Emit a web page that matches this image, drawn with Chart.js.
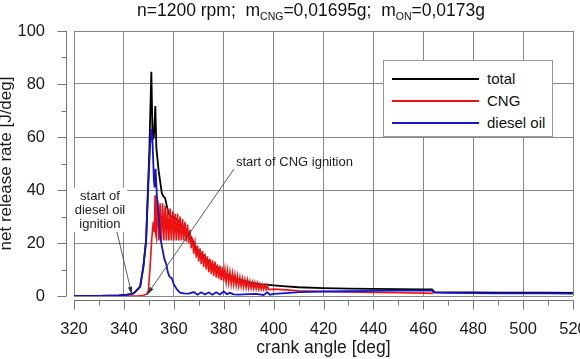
<!DOCTYPE html>
<html>
<head>
<meta charset="utf-8">
<script src="https://cdn.jsdelivr.net/npm/chart.js@4.4.0/dist/chart.umd.min.js"></script>
<style>
  body { margin: 0; background: #fff; font-family: 'Liberation Sans', Arial, sans-serif; }
  #wrap { position: relative; width: 580px; height: 359px; overflow: hidden; }
  #title { position: absolute; left: 137px; top: 0; font-size: 17.5px; line-height: 21px; color: #111; white-space: pre; }
  #title sub { font-size: 10.5px; vertical-align: -4px; line-height: 0; }
  #legend { position: absolute; left: 383px; top: 60px; width: 168px; height: 75px; border: 1.5px solid #999; background: #fff; }
  .row { position: absolute; left: 8px; width: 160px; height: 20px; font-size: 15px; line-height: 20px; color: #111; }
  .row .ln { position: absolute; left: 0; top: 9px; width: 87px; height: 2px; }
  .row .tx { position: absolute; left: 95px; white-space: nowrap; }
</style>
</head>
<body>
<div id="wrap">
  <canvas id="chart" width="580" height="359"></canvas>
  <div id="title">n=1200 rpm;  m<sub>CNG</sub>=0,01695g;  m<sub>ON</sub>=0,0173g</div>
  <div id="legend">
    <div class="row" style="top:8px"><span class="ln" style="background:#000"></span><span class="tx">total</span></div>
    <div class="row" style="top:30px"><span class="ln" style="background:#ee1111"></span><span class="tx">CNG</span></div>
    <div class="row" style="top:52px"><span class="ln" style="background:#1414c8"></span><span class="tx">diesel oil</span></div>
  </div>
</div>
<script>
const xTicks = [320, 340, 360, 380, 400, 420, 440, 460, 480, 500, 520];
const yTicks = [0, 20, 40, 60, 80, 100];

// total heat release
const totalAngle = [
  320, 330, 338, 341, 342.5, 343.8, 345, 346.5, 347.8, 348.9, 349.4, 350.2, 350.6,
  351.0, 351.5, 352.0, 352.6, 353.0, 353.9, 355.2, 355.9, 356.5, 357.2, 357.9,
  359, 361, 363, 365, 367, 369, 371, 373, 375, 377, 379, 381, 383, 385, 387, 389,
  391, 393, 395, 397, 400, 405, 410, 420, 430, 440, 450, 460, 463.5, 464.5,
  470, 480, 490, 500, 510, 520
];
const totalRate = [
  0, 0, 0.2, 0.4, 0.7, 1.0, 2.0, 3.5, 11, 21, 34, 55, 70,
  84.6, 59, 60, 71.7, 56, 47.5, 38.8, 37.5, 37, 34, 31,
  30, 29, 27, 25, 22, 18, 16, 14, 12, 11, 9.5, 8.3, 7.5, 6.5, 6, 5.5,
  5, 4.7, 4.4, 4.3, 4, 3.6, 3.3, 3.0, 2.8, 2.7, 2.6, 2.5, 2.5, 1.5,
  1.4, 1.4, 1.3, 1.3, 1.3, 1.2
];

// CNG
const cngAngle = [
  320, 340, 346, 348, 349.2, 349.8, 350.5, 351.2, 351.8, 352.2, 352.5, 352.8,
  353, 353.5, 354, 354.5, 355, 355.5, 356, 356.5, 357, 357.5,
  358, 358.5, 359, 359.5, 360, 360.5, 361, 361.5, 362, 362.5,
  363, 363.5, 364, 364.5, 365, 365.5, 366, 366.5, 367, 367.5,
  368, 368.5, 369, 369.5, 370, 370.5, 371, 371.5, 372, 372.5,
  373, 373.5, 374, 374.5, 375, 375.5, 376, 376.5, 377, 377.5,
  378, 378.5, 379, 379.5, 380, 380.5, 381, 381.5, 382, 382.5,
  383, 383.5, 384, 384.5, 385, 385.5, 386, 386.5, 387, 387.5,
  388, 388.5, 389, 389.5, 390, 390.5, 391, 391.5, 392, 392.5,
  393, 393.5, 394, 394.5, 395, 395.5, 396, 396.5, 397, 397.5,
  398, 400, 405, 410, 420, 430, 440, 450, 460, 464
];
const cngRate = [
  0, 0, 0.1, 0.3, 0.8, 2, 11, 22, 28, 24, 38, 23,
  22, 36, 21, 35, 21, 35, 21, 34, 21, 33,
  21, 33, 21, 32, 21, 31, 21, 31, 21, 30,
  21, 29, 21, 28, 20.5, 27, 20, 25, 18, 22,
  16, 20, 14.5, 19, 13, 18, 12, 17, 11, 16,
  10, 15, 9, 14, 8.3, 13.5, 7.6, 13, 7, 12,
  6.5, 11.5, 6, 11, 5.5, 10, 5.2, 9.5, 5, 9,
  4.6, 8.5, 4.3, 8, 4, 7.5, 3.8, 7, 3.6, 6.5,
  3.4, 6.2, 3.2, 6, 3, 5.5, 2.9, 5.2, 2.8, 5,
  2.7, 4.8, 2.6, 4.5, 2.5, 4.3, 2.5, 4.1, 2.4, 4,
  2.4, 2.6, 2.3, 2.0, 1.7, 1.5, 1.3, 1.2, 1.1, 1.0
];

// diesel oil
const dieselAngle = [
  320, 330, 338, 341, 342.5, 343.8, 345, 346.5, 347.8, 348.9, 349.4, 350.2, 350.6,
  351.0, 351.5, 352.0, 352.3, 352.7, 353.2, 354.0, 354.6, 355.4, 356.2, 357.0,
  357.6, 358.3, 359.2, 360.0, 360.6, 361.5, 362.5, 364, 366, 368, 369.5, 371,
  372.5, 374, 375.5, 377, 378.5, 380, 381.3, 382.5, 384, 386, 388, 390, 393,
  396, 397.5, 398.5, 400, 405, 410, 420, 430, 440, 450, 460, 463.5, 464.5,
  470, 480, 490, 500, 510, 520
];
const dieselRate = [
  0, 0, 0.2, 0.4, 0.7, 1.0, 2.0, 3.5, 11, 21, 33, 51, 58,
  63, 58, 44, 41, 48, 38, 30, 22, 18, 14, 12,
  9, 7.3, 6.7, 4.5, 3.5, 2.2, 1.3, 1.0, 0.9, 1.5, 0.5, 1.4,
  0.6, 1.3, 0.5, 1.4, 0.6, 1.7, 0.7, 1.2, 0.6, 0.5, 0.6, 0.7, 0.8,
  0.4, 1.4, 0.5, 0.8, 1.1, 1.5, 1.7, 1.8, 1.9, 2.0, 2.0, 2.0, 1.3,
  1.2, 1.1, 1.0, 1.0, 1.0, 0.9
];

const FONT = "'Liberation Sans', Arial, sans-serif";

const notes = [
  { lines: ['start of CNG ignition'], at: [384.9, 50.3], from: [384.1, 47.9], tip: [349.3, 0.5], align: 'left' },
  { lines: ['start of', 'diesel oil', 'ignition'], at: [330.4, 37.5], from: [337.2, 24.2], tip: [343.2, 0.5], align: 'center', box: true }
];

function toPoints(xs, ys) {
  return xs.map((x, i) => ({ x, y: ys[i] }));
}

// axis lines drawn a few px away from the plot, with major + minor ticks
const offsetAxes = {
  id: 'offsetAxes',
  afterDraw(chart) {
    const { ctx, chartArea: a, scales: { x, y } } = chart;
    const ax = a.left - 7.5;
    const ay = a.bottom + 4.5;
    ctx.save();
    ctx.strokeStyle = '#777';
    ctx.lineWidth = 1;
    ctx.beginPath();
    ctx.moveTo(ax, a.top);
    ctx.lineTo(ax, a.bottom);
    ctx.moveTo(a.left, ay);
    ctx.lineTo(a.right, ay);
    for (let v = y.min; v <= y.max; v += 10) {
      const py = Math.round(y.getPixelForValue(v)) + 0.5;
      const len = v % 20 === 0 ? 9 : 5;
      ctx.moveTo(ax - len, py);
      ctx.lineTo(ax, py);
    }
    for (let v = x.min; v <= x.max; v += 10) {
      const px = Math.round(x.getPixelForValue(v)) + 0.5;
      const len = v % 20 === 0 ? 9 : 5;
      ctx.moveTo(px, ay);
      ctx.lineTo(px, ay + len);
    }
    ctx.stroke();
    ctx.restore();
  }
};

const annotations = {
  id: 'annotations',
  afterDatasetsDraw(chart) {
    const { ctx, scales: { x, y } } = chart;
    ctx.save();
    ctx.font = '13px ' + FONT;
    notes.forEach(n => {
      const fx = x.getPixelForValue(n.from[0]), fy = y.getPixelForValue(n.from[1]);
      const tx = x.getPixelForValue(n.tip[0]), ty = y.getPixelForValue(n.tip[1]);
      // arrow
      ctx.strokeStyle = '#333';
      ctx.fillStyle = '#333';
      ctx.lineWidth = 0.8;
      ctx.beginPath();
      ctx.moveTo(fx, fy);
      ctx.lineTo(tx, ty);
      ctx.stroke();
      const ang = Math.atan2(ty - fy, tx - fx);
      ctx.beginPath();
      ctx.moveTo(tx, ty);
      ctx.lineTo(tx - 8 * Math.cos(ang) + 2.2 * Math.sin(ang), ty - 8 * Math.sin(ang) - 2.2 * Math.cos(ang));
      ctx.lineTo(tx - 8 * Math.cos(ang) - 2.2 * Math.sin(ang), ty - 8 * Math.sin(ang) + 2.2 * Math.cos(ang));
      ctx.closePath();
      ctx.fill();
      // text
      const cx = x.getPixelForValue(n.at[0]);
      const cy = y.getPixelForValue(n.at[1]);
      const lh = 13.7;
      if (n.box) {
        const w = Math.max(...n.lines.map(l => ctx.measureText(l).width)) + 4;
        ctx.fillStyle = '#fff';
        ctx.fillRect(cx - w / 2, cy - lh / 2 - 2, w, lh * n.lines.length + 3);
      }
      ctx.fillStyle = '#222';
      ctx.textAlign = n.align;
      ctx.textBaseline = 'middle';
      n.lines.forEach((l, i) => ctx.fillText(l, cx, cy + i * lh));
    });
    ctx.restore();
  }
};

new Chart(document.getElementById('chart'), {
  type: 'line',
  data: {
    datasets: [
      { label: 'total', data: toPoints(totalAngle, totalRate), borderColor: '#000', borderWidth: 1.8, order: 2 },
      { label: 'CNG', data: toPoints(cngAngle, cngRate), borderColor: '#ee1111', borderWidth: 1.6, order: 1 },
      { label: 'diesel oil', data: toPoints(dieselAngle, dieselRate), borderColor: '#1414c8', borderWidth: 1.8, order: 0 }
    ]
  },
  options: {
    responsive: false,
    animation: false,
    events: [],
    elements: { point: { radius: 0 }, line: { tension: 0 } },
    layout: { padding: { top: 31, right: 7, bottom: 0, left: 0 } },
    plugins: { legend: { display: false }, tooltip: { enabled: false } },
    scales: {
      x: {
        type: 'linear', min: 320, max: 520,
        afterBuildTicks: s => { s.ticks = xTicks.map(v => ({ value: v })); },
        afterFit: s => { s.height = 63; s.paddingLeft = 0; s.paddingRight = 0; },
        grid: { color: '#888', lineWidth: 1, drawTicks: false },
        border: { display: false },
        ticks: { padding: 24, autoSkip: false, maxRotation: 0, color: '#1a1a1a', font: { family: FONT, size: 16.5 } },
        title: { display: true, text: 'crank angle [deg]', color: '#1a1a1a', padding: { top: 0, bottom: 0 }, font: { family: FONT, size: 17.5 } }
      },
      y: {
        min: 0, max: 100,
        afterBuildTicks: s => { s.ticks = yTicks.map(v => ({ value: v })); },
        afterFit: s => { s.width = 74; s.paddingTop = 0; s.paddingBottom = 0; },
        grid: { color: '#888', lineWidth: 1, drawTicks: false },
        border: { display: false },
        ticks: { padding: 29, color: '#1a1a1a', font: { family: FONT, size: 16.5 } },
        title: { display: true, text: 'net release rate [J/deg]', color: '#1a1a1a', padding: { top: 0, bottom: 0 }, font: { family: FONT, size: 17, lineHeight: 0.75 } }
      }
    }
  },
  plugins: [offsetAxes, annotations]
});
</script>
</body>
</html>
